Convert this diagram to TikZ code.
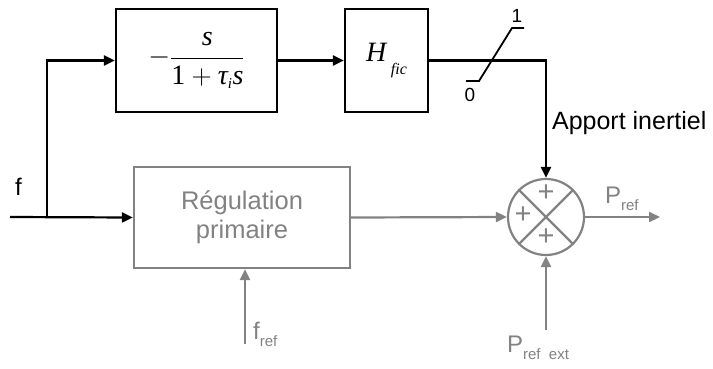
\RequirePackage{fix-cm}
\documentclass[tikz,border=0pt]{standalone}
\usepackage{fontspec}
\setmainfont{Liberation Sans}
\newfontfamily\tms{Liberation Serif}
\usetikzlibrary{arrows.meta}
\definecolor{gr}{RGB}{130,130,130}
\newcommand{\lsub}[1]{\raisebox{-0.32em}{\fontsize{15}{15}\selectfont #1}}
\newcommand{\ti}[1]{\mbox{\tms\itshape #1}}
\begin{document}
\begin{tikzpicture}[x=1pt,y=-1pt,line width=2.2pt,
  >={Triangle[length=11pt,width=10pt]},
  blk/.style={draw=black,minimum width=#1,minimum height=103pt,inner sep=0pt},
  gblk/.style={draw=gr,text=gr,minimum width=216pt,minimum height=101pt,inner sep=0pt,align=center,font=\fontsize{25.5}{29}\selectfont},
  lbl/.style={inner sep=0pt,font=\fontsize{24}{28}\selectfont},
  glbl/.style={lbl,text=gr},
  plus/.style={inner sep=0pt,text=gr,font=\fontsize{29}{29}\selectfont},
  small/.style={inner sep=0pt,font=\fontsize{19}{19}\selectfont}]
\useasboundingbox (0,0) rectangle (713,368);
% blocks
\node[blk=161pt] (b1) at (196.5,60.5) {\fontsize{28}{32}\selectfont $-\displaystyle\frac{\ti{s}}{\mbox{\tms 1}+\ti{τ}_{\mbox{\tms\itshape\fontsize{15}{15}\selectfont i}}\ti{s}}$};
\node[blk=83pt] (b2) at (386.5,60.5) {\fontsize{28}{30}\selectfont\ti{H}\,\raisebox{-0.45em}{\tms\itshape\fontsize{16}{16}\selectfont fic}};
\node[gblk] (reg) at (242,217.5) {Régulation\\primaire};
\node[draw=gr,circle,minimum size=76pt,inner sep=0pt] (sum) at (546,217) {};
\draw[gr] (sum.north west) -- (sum.south east);
\draw[gr] (sum.north east) -- (sum.south west);
\node[plus] (p1) at (546,193) {+};
\node[plus] (p2) at (523,215) {+};
\node[plus] (p3) at (546,237) {+};
% input f
\coordinate (fin) at (10,217);
\coordinate (fj) at (47,217);
\node[lbl,anchor=base west] (flab) at (14,195) {f};
\draw[->] (fin) -- (reg.west);
\draw[->] (fj) |- (b1.west);
\draw[->] (b1.east) -- (b2.west);
\draw[->] (b2.east) -| (sum.north);
% switch
\draw[line width=1.8pt] (466,81) -- (479,81) -- (512,28) -- (524,28);
\node[small] (s1) at (517,16) {1};
\node[small] (s0) at (470,95) {0};
\node[lbl,anchor=base west,font=\fontsize{25}{28}\selectfont] (app) at (551,129) {Apport inertiel};
% gray connectors
\draw[gr,->] (reg.east) -- (sum.west);
\coordinate (pout) at (660,217);
\draw[gr,->] (sum.east) -- (pout);
\node[glbl,anchor=base west] (pref) at (604,203) {P\lsub{ref}};
\coordinate (frefs) at (245,344);
\draw[gr,->] (frefs) -- (frefs |- reg.south);
\node[glbl,anchor=base west] (freflab) at (252,339) {f\lsub{ref}};
\coordinate (pexs) at (546,330);
\draw[gr,->] (pexs) -- (sum.south);
\node[glbl,anchor=base west] (pexlab) at (506,352) {P\lsub{ref\ \ ext}};
\end{tikzpicture}
\end{document}
